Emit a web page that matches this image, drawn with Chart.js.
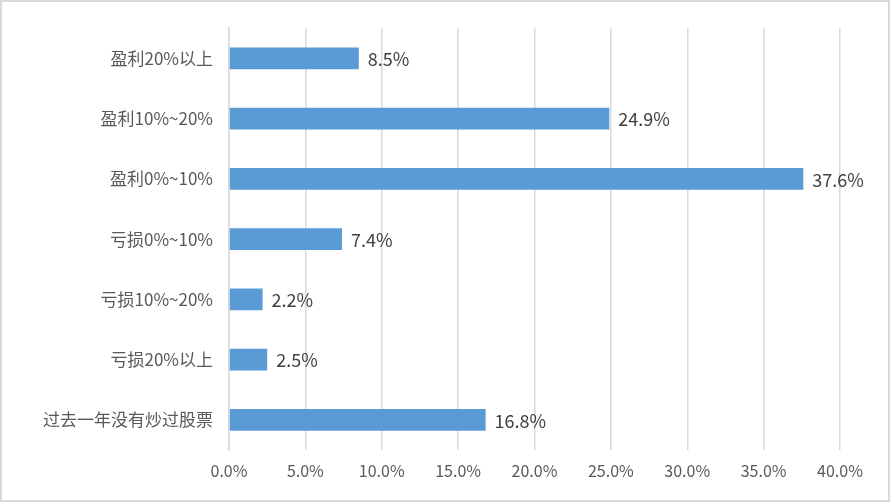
<!DOCTYPE html>
<html>
<head>
<meta charset="utf-8">
<script src="https://cdn.jsdelivr.net/npm/chart.js@4"></script>
<style>
    body { margin: 0; background: #fff; }
    #box { width: 890px; height: 502px; box-sizing: border-box; border: 2px solid #d9d9d9; }
</style>
</head>
<body>
<div id="box"><canvas id="profitChart" width="886" height="498"></canvas></div>
<script>
// categorii si valori (%)
var categories = ['盈利20%以上', '盈利10%~20%', '盈利0%~10%', '亏损0%~10%', '亏损10%~20%', '亏损20%以上', '过去一年没有炒过股票'];
var values = [8.5, 24.9, 37.6, 7.4, 2.2, 2.5, 16.8];
var tickValues = [0, 5, 10, 15, 20, 25, 30, 35, 40];

var fontFam = '"Noto Sans CJK SC", "Noto Sans", sans-serif';

// eticheta cu valoarea la capatul barei
var valueLabels = {
    id: 'valueLabels',
    afterDatasetsDraw(chart) {
        var ctx = chart.ctx;
        var meta = chart.getDatasetMeta(0);
        ctx.save();
        ctx.font = '18px ' + fontFam;
        ctx.fillStyle = '#404040';
        ctx.textAlign = 'left';
        ctx.textBaseline = 'middle';
        meta.data.forEach(function (bar, i) {
            ctx.fillText(values[i].toFixed(1) + '%', bar.x + 9, bar.y + 1);
        });
        ctx.restore();
    }
};

var ctx = document.getElementById('profitChart').getContext('2d');
var myChart = new Chart(ctx, {
    type: 'bar',
    data: {
        labels: categories,
        datasets: [{
            data: values,
            backgroundColor: '#5b9bd5',
            categoryPercentage: 1,
            barPercentage: 0.36
        }]
    },
    options: {
        indexAxis: 'y',
        responsive: false,
        animation: false,
        layout: { padding: { top: 24, right: 48, left: 0, bottom: 0 } },
        plugins: {
            legend: { display: false },
            title: { display: false },
            tooltip: { enabled: false }
        },
        scales: {
            x: {
                min: 0,
                max: 40,
                afterBuildTicks: function (axis) {
                    axis.ticks = tickValues.map(function (v) { return { value: v }; });
                },
                afterFit: function (axis) { axis.height = 50; },
                grid: { color: '#d9d9d9', lineWidth: 1.5, drawTicks: false },
                border: { display: false },
                ticks: {
                    padding: 11,
                    color: '#595959',
                    font: { family: fontFam, size: 16 },
                    callback: function (v) { return v.toFixed(1) + '%'; }
                }
            },
            y: {
                afterFit: function (axis) { axis.width = 227; },
                grid: { display: false, drawTicks: false },
                border: { display: true, color: '#d9d9d9', width: 1.5 },
                ticks: {
                    padding: 16,
                    color: '#595959',
                    font: { family: fontFam, size: 17 }
                }
            }
        }
    },
    plugins: [valueLabels]
});
</script>
</body>
</html>
